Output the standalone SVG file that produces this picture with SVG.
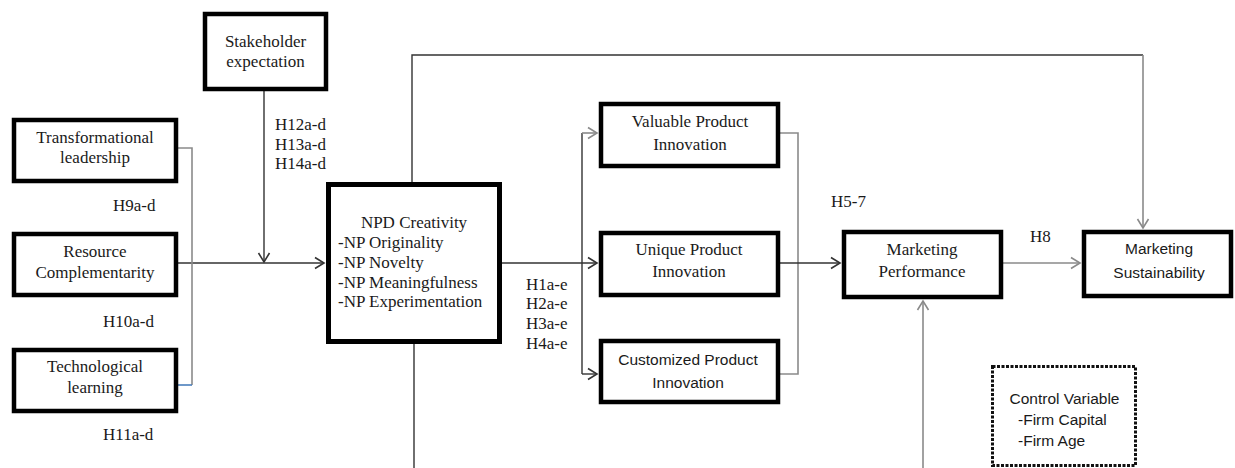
<svg xmlns="http://www.w3.org/2000/svg" width="1235" height="468" viewBox="0 0 1235 468">
<style>
.box{fill:#fff;stroke:#000;stroke-width:4.5}
.t{font-family:"Liberation Serif","Times New Roman",serif;font-size:17px;fill:#1a1a1a}
.s{font-family:"Liberation Sans",Arial,sans-serif;font-size:15.5px;fill:#1a1a1a}
.m{text-anchor:middle}
.ln{fill:none;stroke:#333;stroke-width:1.4}
.lg{fill:none;stroke:#8a8a8a;stroke-width:1.6}
</style>
<defs>
<marker id="ad" viewBox="-11 -7 13 14" refX="0" refY="0" markerWidth="13" markerHeight="14" markerUnits="userSpaceOnUse" orient="auto">
<path d="M-9,-5.5 L0,0 L-9,5.5" fill="none" stroke="#333" stroke-width="1.6"/>
</marker>
<marker id="ag" viewBox="-11 -7 13 14" refX="0" refY="0" markerWidth="13" markerHeight="14" markerUnits="userSpaceOnUse" orient="auto">
<path d="M-9,-5.5 L0,0 L-9,5.5" fill="none" stroke="#8a8a8a" stroke-width="1.6"/>
</marker>
</defs>
<rect width="1235" height="468" fill="#fff"/>

<g id="connectors">
<path class="ln" d="M264,91 V262" marker-end="url(#ad)"/>
<path class="ln" d="M178,263 H324" marker-end="url(#ad)"/>
<path class="lg" d="M178,148 H192 V385"/>
<path d="M192,385 H178" fill="none" stroke="#4a7ebb" stroke-width="1.6"/>
<path class="ln" d="M412,182 V55 H1143"/>
<path class="lg" d="M1143,55 V228" marker-end="url(#ag)"/>
<path class="ln" d="M414,344 V468"/>
<path class="ln" d="M502,263 H597" marker-end="url(#ad)"/>
<path class="ln" d="M582,133 V374"/>
<path class="lg" d="M582,133 H597" marker-end="url(#ag)"/>
<path class="ln" d="M582,374 H597" marker-end="url(#ad)"/>
<path class="lg" d="M780,133 H798 V374 H780"/>
<path class="ln" d="M780,263 H840" marker-end="url(#ad)"/>
<path class="lg" d="M1003,263 H1080" marker-end="url(#ag)"/>
<path class="lg" d="M923,468 V301" marker-end="url(#ag)"/>
</g>

<g id="labels">
<text class="t" x="275" y="130">H12a-d</text>
<text class="t" x="275" y="150">H13a-d</text>
<text class="t" x="275" y="169">H14a-d</text>
<text class="t" x="113" y="211">H9a-d</text>
<text class="t" x="103" y="327">H10a-d</text>
<text class="t" x="103" y="440">H11a-d</text>
<text class="t" x="526" y="290">H1a-e</text>
<text class="t" x="526" y="309">H2a-e</text>
<text class="t" x="526" y="329">H3a-e</text>
<text class="t" x="526" y="349">H4a-e</text>
<text class="t" x="831" y="207">H5-7</text>
<text class="t" x="1030" y="242">H8</text>
</g>

<g id="stakeholder">
<rect class="box" x="205" y="14" width="121" height="75"/>
<text class="t m" x="265.5" y="47">Stakeholder</text>
<text class="t m" x="265.5" y="67">expectation</text>
</g>
<g id="transformational">
<rect class="box" x="14" y="120" width="162" height="61"/>
<text class="t m" x="95" y="143">Transformational</text>
<text class="t m" x="95" y="163">leadership</text>
</g>
<g id="resource">
<rect class="box" x="14" y="234" width="162" height="61"/>
<text class="t m" x="95" y="257">Resource</text>
<text class="t m" x="95" y="278">Complementarity</text>
</g>
<g id="technological">
<rect class="box" x="14" y="350" width="162" height="61"/>
<text class="t m" x="95" y="372">Technological</text>
<text class="t m" x="95" y="393">learning</text>
</g>
<g id="npd">
<rect class="box" x="328.5" y="184.5" width="171" height="157" style="stroke-width:5"/>
<text class="t m" x="414" y="228">NPD Creativity</text>
<text class="t" x="338" y="248">-NP Originality</text>
<text class="t" x="338" y="268">-NP Novelty</text>
<text class="t" x="338" y="288">-NP Meaningfulness</text>
<text class="t" x="338" y="307">-NP Experimentation</text>
</g>
<g id="valuable">
<rect class="box" x="601" y="104" width="177" height="62"/>
<text class="t m" x="690" y="127">Valuable Product</text>
<text class="t m" x="690" y="150">Innovation</text>
</g>
<g id="unique">
<rect class="box" x="601" y="233" width="177" height="62"/>
<text class="t m" x="689" y="255">Unique Product</text>
<text class="t m" x="689" y="277">Innovation</text>
</g>
<g id="customized">
<rect class="box" x="601" y="341" width="177" height="61"/>
<text class="s m" x="688" y="365">Customized Product</text>
<text class="s m" x="688" y="388">Innovation</text>
</g>
<g id="performance">
<rect class="box" x="844" y="232" width="157" height="65"/>
<text class="t m" x="922" y="255">Marketing</text>
<text class="t m" x="922" y="277">Performance</text>
</g>
<g id="sustainability">
<rect class="box" x="1084" y="232" width="147" height="64"/>
<text class="s m" x="1159" y="254">Marketing</text>
<text class="s m" x="1159" y="278">Sustainability</text>
</g>
<g id="control">
<rect x="992.5" y="366.5" width="143" height="99" fill="#fff" stroke="#111" stroke-width="3" stroke-dasharray="3 1.5"/>
<text class="s m" x="1064.5" y="404">Control Variable</text>
<text class="s" x="1018" y="425">-Firm Capital</text>
<text class="s" x="1018" y="446">-Firm Age</text>
</g>
</svg>
